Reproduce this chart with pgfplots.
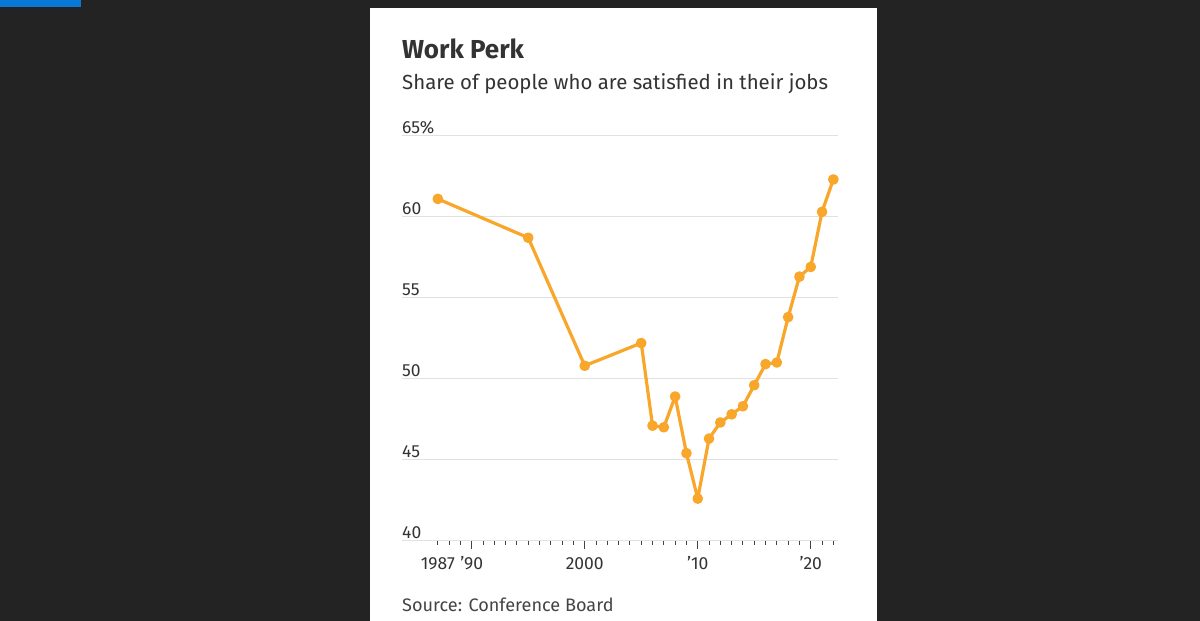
\documentclass[border=0pt]{standalone}
\usepackage{pgfplots}
\pgfplotsset{compat=1.18}
\usepackage{fontspec}
\setmainfont{Fira Sans}
\definecolor{bgdark}{RGB}{35,35,35}
\definecolor{wsjblue}{RGB}{10,120,215}
\definecolor{lineorange}{RGB}{248,167,42}
\definecolor{gridgray}{RGB}{225,225,225}
\definecolor{textdark}{RGB}{51,51,51}
\definecolor{textmid}{RGB}{68,68,68}
\begin{document}
\begin{tikzpicture}[x=1pt,y=1pt]
\fill[bgdark] (0,0) rectangle (1200,621);
\fill[wsjblue] (0,614) rectangle (81,621);
\fill[white] (370,0) rectangle (877,613);
\node[anchor=base west,inner sep=0pt,text=textdark,font=\fontsize{26}{30}\selectfont\bfseries] at (402,562.7) {Work Perk};
\node[anchor=base west,inner sep=0pt,text=textdark,font=\fontsize{20.4}{24}\selectfont] at (402,531.7) {Share of people who are satisfied in their jobs};
\node[anchor=base west,inner sep=0pt,text=textmid,font=\fontsize{18.1}{22}\selectfont] at (402,9.3) {Source: Conference Board};
\begin{axis}[
  at={(402pt,80.3pt)}, anchor=south west,
  scale only axis, width=436.3pt, height=405pt,
  xmin=1983.83, xmax=2022.44, ymin=40, ymax=65,
  axis line style={draw=none},
  ytick={40,45,50,55,60,65},
  yticklabels={40,45,50,55,60,65\%},
  ymajorgrids, grid style={gridgray, line width=1pt},
  y tick style={draw=none},
  yticklabel style={anchor=base west, inner sep=0pt, xshift=8pt, yshift=2.5pt, text=textdark, font=\fontsize{17.5}{20}\selectfont},
  xtick pos=left,
  xtick={1990,2000,2010,2020},
  xticklabels={'90,2000,'10,'20},
  extra x ticks={1987},
  extra x tick labels={1987},
  extra x tick style={major tick length=4pt, grid=none, xticklabel style={yshift=-4pt}},
  minor xtick={1988,1989,1991,1992,1993,1994,1995,1996,1997,1998,1999,2001,2002,2003,2004,2005,2006,2007,2008,2009,2011,2012,2013,2014,2015,2016,2017,2018,2019,2021,2022},
  tick align=outside, major tick length=8pt, minor tick length=4pt,
  x tick style={textmid, line width=1pt},
  xticklabel style={anchor=base, inner sep=0pt, yshift=-21pt, text=textdark, font=\fontsize{17.5}{20}\selectfont},
  xmajorgrids=false,
  /pgf/number format/assume math mode=true,
  clip=false,
]
\addplot[lineorange, line width=3.2pt, line join=round, mark=*, mark size=3.7pt, mark options={fill=lineorange, draw=none}] coordinates {
(1987,61.1) (1995,58.7) (2000,50.8) (2005,52.2) (2006,47.1) (2007,47.0) (2008,48.9)
(2009,45.4) (2010,42.6) (2011,46.3) (2012,47.3) (2013,47.8) (2014,48.3) (2015,49.6)
(2016,50.9) (2017,51.0) (2018,53.8) (2019,56.3) (2020,56.9) (2021,60.3) (2022,62.3)
};
\end{axis}
\pgfresetboundingbox
\useasboundingbox (0,0) rectangle (1200,621);
\end{tikzpicture}
\end{document}
